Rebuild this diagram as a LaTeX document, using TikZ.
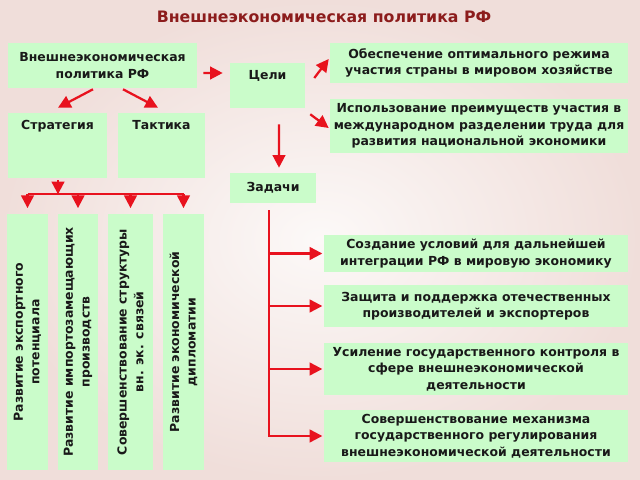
\documentclass[tikz,border=0pt]{standalone}
\usepackage{fontspec}
\setmainfont{DejaVu Sans}
\usetikzlibrary{arrows.meta,positioning}

\definecolor{boxgreen}{RGB}{202,252,202}
\definecolor{arrred}{RGB}{232,18,30}
\definecolor{titlered}{RGB}{140,28,28}
\definecolor{bgpink}{RGB}{240,222,218}
\definecolor{bglight}{RGB}{252,249,248}

\newcommand{\pxu}{0.025cm}

\tikzset{
	box/.style={fill=boxgreen, inner sep=0pt, align=center, text=black!90,
		font=\bfseries\fontsize{8.85}{11.8}\selectfont},
	boxtext/.style={inner sep=0pt, anchor=north, text=black!90,
		font=\bfseries\fontsize{8.85}{11.8}\selectfont},
	arr/.style={draw=arrred, line width=1.6pt, -{Triangle[length=9pt,width=9pt]}},
	branch/.style={draw=arrred, line width=1.6pt},
}

\begin{document}
\begin{tikzpicture}[x=\pxu, y=-\pxu]
	
	% Background
	\useasboundingbox (0,0) rectangle (640,480);
	\shade[inner color=bglight, outer color=bgpink] (0,0) rectangle (640,480);
	
	% Title
	\node[text=titlered, font=\bfseries\fontsize{11.2}{13}\selectfont] (title) at (324,17) {Внешнеэкономическая политика РФ};
	
	% Left part
	\node[box, minimum width=189*\pxu, minimum height=45*\pxu] (polit) at (102.5,65.5) {Внешнеэкономическая\\политика РФ};
	\node[box, minimum width=99*\pxu, minimum height=65*\pxu] (strat) at (57.5,145.5) {};
	\node[box, minimum width=87*\pxu, minimum height=65*\pxu] (takt) at (161.5,145.5) {};
	\node[boxtext] (stratlbl) at ([yshift=-5pt]strat.north) {Стратегия};
	\node[boxtext] (taktlbl) at ([yshift=-5pt]takt.north) {Тактика};
	
	% Vertical boxes (rotated, so east is the top)
	\node[box, rotate=90, minimum width=256*\pxu, minimum height=41*\pxu] (v1) at (27.5,342) {Развитие экспортного\\потенциала};
	\node[box, rotate=90, minimum width=256*\pxu, minimum height=40*\pxu] (v2) at (78,342) {Развитие импортозамещающих\\производств};
	\node[box, rotate=90, minimum width=256*\pxu, minimum height=45*\pxu] (v3) at (130.5,342) {Совершенствование структуры\\вн. эк. связей};
	\node[box, rotate=90, minimum width=256*\pxu, minimum height=41*\pxu] (v4) at (183.5,342) {Развитие экономической\\дипломатии};
	
	% Goals and tasks
	\node[box, minimum width=75*\pxu, minimum height=45*\pxu] (celi) at (267.5,85.5) {};
	\node[boxtext] (celilbl) at ([yshift=-5pt]celi.north) {Цели};
	\node[box, minimum width=86*\pxu, minimum height=30*\pxu] (zadachi) at (273,188) {Задачи};
	
	\node[box, minimum width=298*\pxu, minimum height=40*\pxu] (goal1) at (479,63) {Обеспечение оптимального режима\\участия страны в мировом хозяйстве};
	\node[box, minimum width=298*\pxu, minimum height=54*\pxu] (goal2) at (479,126) {Использование преимуществ участия в\\международном разделении труда для\\развития национальной экономики};
	
	\node[box, minimum width=304*\pxu, minimum height=37*\pxu] (task1) at (476,253.5) {Создание условий для дальнейшей\\интеграции РФ в мировую экономику};
	\node[box, minimum width=304*\pxu, minimum height=42*\pxu] (task2) at (476,306) {Защита и поддержка отечественных\\производителей и экспортеров};
	\node[box, minimum width=304*\pxu, minimum height=52*\pxu] (task3) at (476,369) {Усиление государственного контроля в\\сфере внешнеэкономической\\деятельности};
	\node[box, minimum width=304*\pxu, minimum height=52*\pxu] (task4) at (476,436) {Совершенствование механизма\\государственного регулирования\\внешнеэкономической деятельности};
	
	% Arrows from the policy box
	\draw[arr] ([shift={(-9.5,1)}]polit.south) -- ([shift={(0.5,-5)}]strat.north);
	\draw[arr] ([shift={(20.5,1)}]polit.south) -- ([shift={(-3.5,-5)}]takt.north);
	\draw[arr] ([shift={(6,7.5)}]polit.east) -- ([shift={(-7,-12.5)}]celi.west);
	
	% Arrows from the goals box
	\draw[arr] ([shift={(9,-7.5)}]celi.east) -- ([shift={(-1,-4)}]goal1.west);
	\draw[arr] ([shift={(5,6)}]celi.south east) -- ([shift={(-1,2)}]goal2.west);
	\draw[arr] ([shift={(11.5,16)}]celi.south) -- ([shift={(6,-5)}]zadachi.north);
	
	% Strategy branches
	\coordinate (sbr) at ([shift={(0.5,16)}]strat.south);
	\draw[arr] ([shift={(0.5,2)}]strat.south) -- (sbr);
	\draw[branch] (v1.east |- sbr) -- (v4.east |- sbr);
	\foreach \v in {v1,v2,v3,v4}
		\draw[arr] (\v.east |- sbr) -- ([yshift=4pt]\v.east);
	
	% Task branches
	\coordinate (ztop) at ([shift={(-4,7)}]zadachi.south);
	\draw[branch] (ztop) -- ([yshift=-0.8pt]ztop |- task4.west);
	\foreach \t in {task1,task2,task3,task4}
		\draw[arr] (ztop |- \t.west) -- ([xshift=-1pt]\t.west);
	
\end{tikzpicture}
\end{document}
